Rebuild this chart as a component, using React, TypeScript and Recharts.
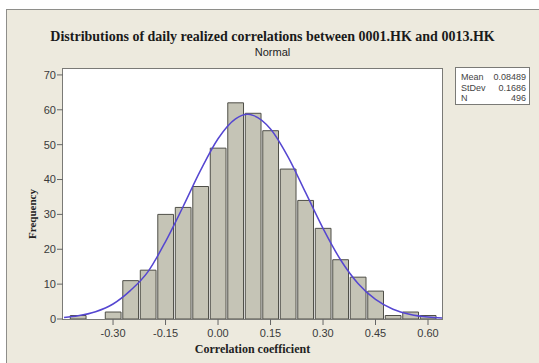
import React from 'react';
import { ComposedChart, Bar, Line, XAxis, YAxis } from 'recharts';

// histogram bins (centre of each 0.05-wide class) and their counts
const binCenters = [
  -0.4, -0.35, -0.3, -0.25, -0.2, -0.15, -0.1, -0.05, 0, 0.05, 0.1,
  0.15, 0.2, 0.25, 0.3, 0.35, 0.4, 0.45, 0.5, 0.55, 0.6,
];
const binCounts = [1, 0, 2, 11, 14, 30, 32, 38, 49, 62, 59, 54, 43, 34, 26, 17, 12, 8, 1, 2, 1];

// fitted normal curve
const curveX = [
  -0.44, -0.4, -0.35, -0.3, -0.25, -0.2, -0.15, -0.1, -0.05, 0, 0.05, 0.085,
  0.1, 0.15, 0.2, 0.25, 0.3, 0.35, 0.4, 0.45, 0.5, 0.55, 0.6, 0.64,
];
const curveY = [
  0.46, 0.94, 2.1, 4.3, 8.2, 13.6, 22.2, 32.2, 42.6, 51.7, 57.4, 58.7,
  58.4, 54.5, 46.5, 36.3, 26.0, 17.0, 10.2, 5.6, 2.8, 1.3, 0.55, 0.26,
];

const xTicks = [-0.3, -0.15, 0, 0.15, 0.3, 0.45, 0.6];
const yTicks = [0, 10, 20, 30, 40, 50, 60, 70];

const statLabels = ['Mean', 'StDev', 'N'];
const statValues = ['0.08489', '0.1686', '496'];

const histData = binCenters.map((x, i) => ({ x, count: binCounts[i] }));
const curveData = curveX.map((x, i) => ({ x, fit: curveY[i] }));

const W = 539;
const H = 363;
const PLOT_LEFT = 63;
const PLOT_RIGHT = 442;
const PLOT_TOP = 69;
const PLOT_BOTTOM = 319;
const X_DOMAIN = [-0.443, 0.64];

const sans = '"Liberation Sans", Arial, sans-serif';
const serif = '"Liberation Serif", "Times New Roman", serif';

export default function App() {
  return (
    <div style={{ position: 'absolute', left: 0, top: 0, width: W, height: H, background: '#fff', overflow: 'hidden' }}>
      {/* beige panel */}
      <div
        style={{
          position: 'absolute',
          left: 6,
          top: 9,
          width: W - 6,
          height: H - 9,
          background: '#EDEADE',
          borderTop: '1.5px solid #8e8e8a',
          borderLeft: '1.5px solid #8e8e8a',
          boxSizing: 'border-box',
        }}
      />
      {/* plot frame */}
      <div
        style={{
          position: 'absolute',
          left: PLOT_LEFT - 1,
          top: PLOT_TOP - 1,
          width: PLOT_RIGHT - PLOT_LEFT + 2,
          height: PLOT_BOTTOM - PLOT_TOP + 2,
          background: '#fff',
          border: '1.5px solid #7a7a76',
          boxSizing: 'border-box',
        }}
      />
      <div
        style={{
          position: 'absolute',
          left: 6,
          width: W - 6,
          top: 29,
          lineHeight: '16px',
          textAlign: 'center',
          fontFamily: serif,
          fontWeight: 'bold',
          fontSize: 14,
          color: '#1a1a1a',
        }}
      >
        Distributions of daily realized correlations between 0001.HK and 0013.HK
      </div>
      <div
        style={{
          position: 'absolute',
          left: 6,
          width: W - 6,
          top: 46,
          lineHeight: '13px',
          textAlign: 'center',
          fontFamily: sans,
          fontSize: 11,
          color: '#222',
        }}
      >
        Normal
      </div>

      <ComposedChart
        width={W}
        height={H}
        data={histData}
        margin={{ top: PLOT_TOP, right: W - PLOT_RIGHT, left: 3, bottom: 14 }}
        style={{ position: 'absolute', left: 0, top: 0 }}
      >
        <XAxis
          xAxisId="bins"
          dataKey="x"
          type="number"
          domain={X_DOMAIN}
          allowDataOverflow
          ticks={xTicks}
          tickFormatter={(v: number) => v.toFixed(2)}
          axisLine={false}
          tickLine={{ stroke: '#666' }}
          tickSize={6}
          tickMargin={4}
          height={30}
          tick={{ fontFamily: sans, fontSize: 11, fill: '#3a3a3a' }}
        />
        <XAxis xAxisId="curve" dataKey="x" type="number" domain={X_DOMAIN} allowDataOverflow hide />
        <YAxis
          type="number"
          domain={[0, 71.7]}
          allowDataOverflow
          ticks={yTicks}
          axisLine={false}
          tickLine={{ stroke: '#666' }}
          tickSize={6}
          tickMargin={1}
          width={60}
          tick={{ fontFamily: sans, fontSize: 11, fill: '#3a3a3a' }}
        />
        <Bar
          xAxisId="bins"
          dataKey="count"
          barSize={17.5}
          fill="#C5C4B6"
          stroke="#4f4f48"
          strokeWidth={1}
          isAnimationActive={false}
        />
        <Line
          xAxisId="curve"
          data={curveData}
          dataKey="fit"
          type="monotone"
          dot={false}
          stroke="#5546d1"
          strokeWidth={1.5}
          isAnimationActive={false}
        />
      </ComposedChart>

      <div
        style={{
          position: 'absolute',
          left: 32,
          top: 214,
          transform: 'translate(-50%, -50%) rotate(-90deg)',
          fontFamily: serif,
          fontWeight: 'bold',
          fontSize: 11,
          color: '#222',
          whiteSpace: 'nowrap',
          lineHeight: '13px',
        }}
      >
        Frequency
      </div>
      <div
        style={{
          position: 'absolute',
          left: PLOT_LEFT,
          width: PLOT_RIGHT - PLOT_LEFT,
          top: 342,
          lineHeight: '14px',
          textAlign: 'center',
          fontFamily: serif,
          fontWeight: 'bold',
          fontSize: 12,
          color: '#222',
        }}
      >
        Correlation coefficient
      </div>

      {/* stats box */}
      <div
        style={{
          position: 'absolute',
          left: 455,
          top: 67,
          width: 75,
          height: 38,
          background: '#fff',
          border: '1px solid #7a7a76',
          boxSizing: 'border-box',
          padding: '4px 3px 0 5px',
          fontFamily: sans,
          fontSize: 9,
          color: '#444',
        }}
      >
        {statLabels.map((label, i) => (
          <div key={label} style={{ display: 'flex', justifyContent: 'space-between', lineHeight: '10.5px' }}>
            <span>{label}</span>
            <span>{statValues[i]}</span>
          </div>
        ))}
      </div>
    </div>
  );
}
